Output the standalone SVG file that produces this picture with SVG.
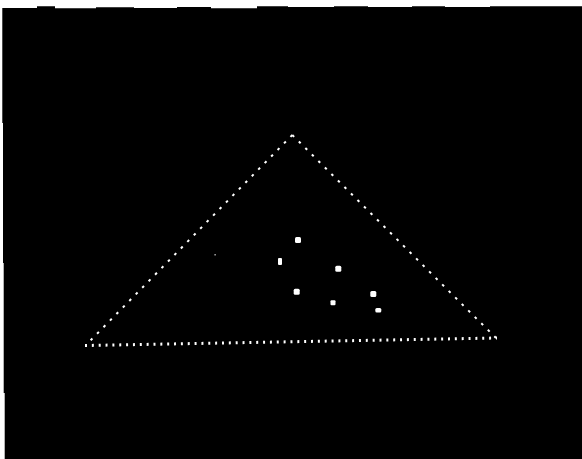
<svg xmlns="http://www.w3.org/2000/svg" width="582" height="459" viewBox="0 0 582 459">
  <style>
    .edge { fill: none; stroke: #ffffff; stroke-width: 2; stroke-linecap: butt; }
    .slant { stroke-dasharray: 2.6 6.6; }
    .base { stroke-dasharray: 2 4.85; stroke-width: 3; }
    .blob { fill: #ffffff; }
  </style>
  <rect x="0" y="0" width="582" height="459" fill="#ffffff"/>
  <polygon id="background" fill="#000000" points="2.3,8 37,8 37,6.3 55,6.3 55,8.3 96,8.3 96,7.3 134,7.3 134,8 177,8 177,7 211,7 211,8.3 257,8.3 257,6.3 288,6.3 288,7 334,7 334,6.3 368,6.3 368,7 412,7 412,6.3 445,6.3 445,7 490,7 490,6.3 582,6.3 582,459 4.7,459 4.7,393 3.7,393 3.7,263 3,263 3,123 2.3,123"/>
  <g id="triangle">
    <line class="edge slant" x1="292.3" y1="135" x2="86" y2="345"/>
    <line class="edge slant" x1="292.3" y1="135" x2="496" y2="338"/>
    <line class="edge base" x1="85" y1="345.5" x2="497" y2="338"/>
  </g>
  <g id="points">
    <rect class="blob" x="295" y="237" width="6" height="6" rx="1.5"/>
    <rect class="blob" x="278" y="258" width="4" height="7" rx="1"/>
    <rect class="blob" x="335.3" y="265.7" width="6" height="6" rx="1.5"/>
    <rect class="blob" x="293.7" y="288.7" width="6" height="6" rx="1.5"/>
    <rect class="blob" x="330.5" y="300.2" width="5" height="5" rx="1"/>
    <rect class="blob" x="370.3" y="291" width="6" height="6" rx="1.5"/>
    <rect class="blob" x="375.3" y="308" width="6" height="4.5" rx="1.5"/>
    <rect class="blob" x="214.5" y="254.2" width="1.2" height="1.2"/>
  </g>
</svg>
